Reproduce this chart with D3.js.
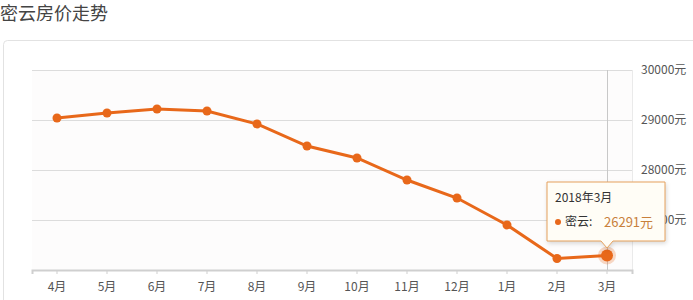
<!DOCTYPE html>
<html>
<head>
<meta charset="utf-8">
<script src="https://cdn.jsdelivr.net/npm/d3@7"></script>
<style>
  body { margin: 0; background: #fff; font-family: "Noto Sans CJK SC", "Noto Sans", sans-serif; }
  #chart { width: 693px; height: 300px; position: relative; overflow: hidden; }
</style>
</head>
<body>
<div id="chart"></div>
<script>
// months (x categories) and prices
const months = ["4月", "5月", "6月", "7月", "8月", "9月", "10月", "11月", "12月", "1月", "2月", "3月"];
const prices = [29040, 29140, 29220, 29180, 28920, 28480, 28240, 27800, 27440, 26900, 26230, 26291];
const yTicks = [27000, 28000, 29000, 30000];
const gridTicks = [27000, 28000, 29000, 30000];
const seriesName = "密云";
const tipTitle = "2018年3月";

const width = 693, height = 300;
const orange = "#e8681a";

const svg = d3.select("#chart").append("svg")
  .attr("width", width)
  .attr("height", height);

// title
svg.append("text")
  .attr("x", 0).attr("y", 20)
  .attr("font-size", 18)
  .attr("fill", "#444")
  .text("密云房价走势");

// panel border
svg.append("rect")
  .attr("x", 3.5).attr("y", 40.5)
  .attr("width", 720).attr("height", 300)
  .attr("rx", 4)
  .attr("fill", "#fff")
  .attr("stroke", "#e2e2e2");

const x = d3.scaleBand().domain(months).range([32, 632]);
const y = d3.scaleLinear().domain([26000, 30000]).range([270, 70]);

// plot background
svg.append("rect")
  .attr("x", 32).attr("y", 70)
  .attr("width", 600).attr("height", 200)
  .attr("fill", "#fdfcfc");

// gridlines
svg.append("g").selectAll("line")
  .data(gridTicks)
  .enter().append("line")
  .attr("x1", 32).attr("x2", 632)
  .attr("y1", d => y(d) + 0.5).attr("y2", d => y(d) + 0.5)
  .attr("stroke", "#dcdcdc");

svg.append("line")
  .attr("x1", 632.5).attr("x2", 632.5)
  .attr("y1", 70).attr("y2", 270)
  .attr("stroke", "#eaeaea");

// bottom axis
const xAxis = svg.append("g")
  .attr("transform", "translate(0,270)")
  .call(d3.axisBottom(x).tickSize(4).tickPadding(8));
xAxis.select(".domain").attr("stroke", "#cfcfcf").attr("stroke-width", 2);
xAxis.selectAll(".tick line").attr("stroke", "#cfcfcf");
xAxis.selectAll("text").attr("fill", "#555").attr("font-size", 12)
  .attr("font-family", "'Noto Sans CJK SC', sans-serif");

// right axis labels
const yAxis = svg.append("g")
  .attr("transform", "translate(641,0)")
  .call(d3.axisRight(y).tickValues(yTicks).tickSize(0).tickPadding(0).tickFormat(d => d + "元"));
yAxis.select(".domain").remove();
yAxis.selectAll("text").attr("fill", "#555").attr("font-size", 12)
  .attr("font-family", "'Noto Sans CJK SC', sans-serif");

// crosshair at last point
const lastIdx = months.length - 1;
const cx = x(months[lastIdx]) + x.bandwidth() / 2;
svg.append("line")
  .attr("x1", cx + 0.5).attr("x2", cx + 0.5)
  .attr("y1", 70).attr("y2", 270)
  .attr("stroke", "#c8c8c8");

// line
const line = d3.line()
  .x((d, i) => x(months[i]) + x.bandwidth() / 2)
  .y(d => y(d));

svg.append("path")
  .datum(prices)
  .attr("d", line)
  .attr("fill", "none")
  .attr("stroke", orange)
  .attr("stroke-width", 3);

svg.append("g").selectAll("circle")
  .data(prices)
  .enter().append("circle")
  .attr("cx", (d, i) => x(months[i]) + x.bandwidth() / 2)
  .attr("cy", d => y(d))
  .attr("r", (d, i) => i === lastIdx ? 0 : 4.5)
  .attr("fill", orange);

// highlighted point
const cy = y(prices[lastIdx]);
svg.append("circle").attr("cx", cx).attr("cy", cy).attr("r", 9)
  .attr("fill", orange).attr("opacity", 0.25);
svg.append("circle").attr("cx", cx).attr("cy", cy).attr("r", 6)
  .attr("fill", orange);

// tooltip
const tip = svg.append("g");
const tx = 547, ty = 182, tw = 118, th = 59;
tip.append("path")
  .attr("d", `M${tx},${ty} h${tw} v${th} H${cx + 6} l-6,7 l-6,-7 H${tx} Z`)
  .attr("fill", "#fffdf6")
  .attr("stroke", "#e6a15c")
  .attr("stroke-width", 1)
  .style("filter", "drop-shadow(1px 2px 2px rgba(0,0,0,0.15))");
tip.append("text")
  .attr("x", tx + 8).attr("y", ty + 20)
  .attr("font-size", 12).attr("fill", "#333")
  .text(tipTitle);
tip.append("circle")
  .attr("cx", tx + 11).attr("cy", ty + 40).attr("r", 3)
  .attr("fill", orange);
tip.append("text")
  .attr("x", tx + 18).attr("y", ty + 44)
  .attr("font-size", 12).attr("fill", "#333")
  .text(seriesName + ":");
tip.append("text")
  .attr("x", tx + 57).attr("y", ty + 45)
  .attr("font-size", 13).attr("fill", "#c8803c")
  .text(prices[lastIdx] + "元");
</script>
</body>
</html>
